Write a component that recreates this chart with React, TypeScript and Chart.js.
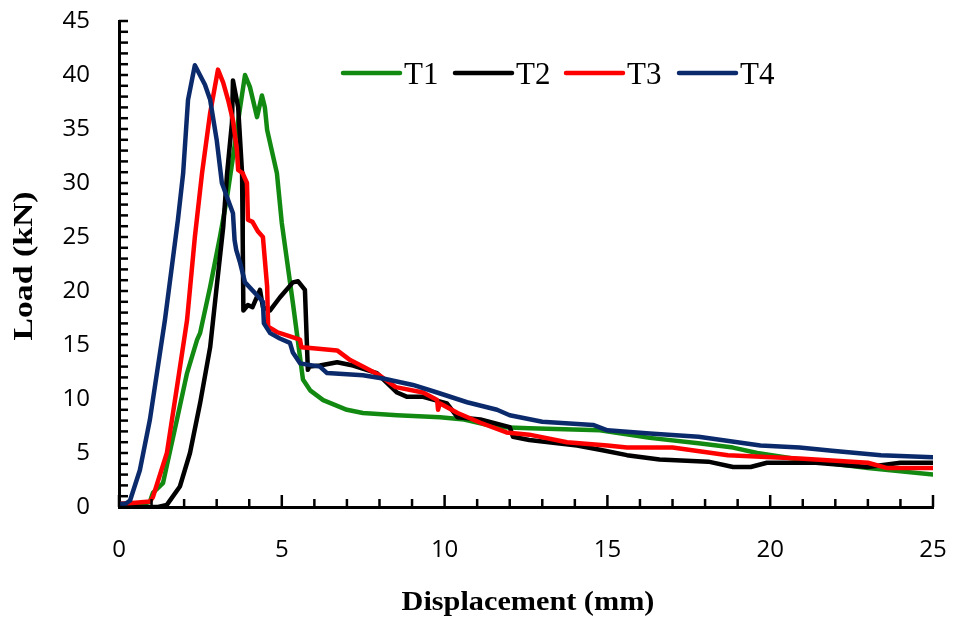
import React, { useEffect, useRef } from "react";
import { Chart, registerables } from "chart.js";

Chart.register(...registerables);

// ---- data (Displacement mm, Load kN) ----
const xT1 = [0, 0.6, 0.95, 1.04, 1.35, 1.78, 2.09, 2.4, 2.49, 2.8, 3.1, 3.32, 3.5, 3.72, 3.87, 4.02, 4.24, 4.39, 4.48, 4.55, 4.85, 5.0, 5.34, 5.65, 5.87, 6.27, 7.0, 7.49, 8.54, 9.86, 10.6, 11.6, 12.6, 14.77, 16.3, 17.8, 18.86, 19.6, 20.9, 23.0, 25];
const yT1 = [0, 0.1, 0.5, 1.3, 2.2, 8.1, 12.4, 15.5, 16.1, 20.4, 25.0, 28.7, 32.4, 37.0, 40.0, 38.9, 36.1, 38.1, 37.0, 34.9, 30.9, 26.3, 18.9, 11.8, 10.8, 9.9, 9.0, 8.7, 8.5, 8.3, 8.1, 7.4, 7.3, 7.1, 6.4, 5.9, 5.5, 5.0, 4.4, 3.6, 3.0];

const xT2 = [0, 1.2, 1.47, 1.87, 2.18, 2.49, 2.8, 3.0, 3.2, 3.32, 3.47, 3.5, 3.66, 3.78, 3.8, 3.82, 3.96, 4.1, 4.33, 4.42, 4.64, 4.94, 5.34, 5.5, 5.71, 5.8, 5.85, 6.17, 6.7, 7.19, 7.92, 8.54, 8.85, 9.34, 10.07, 10.4, 11.1, 12.0, 12.1, 12.6, 14.07, 14.77, 15.6, 16.6, 18.1, 18.86, 19.4, 19.9, 21.4, 23.0, 24.0, 25];
const yT2 = [0, 0, 0.2, 1.9, 5.0, 9.6, 14.8, 20.4, 25.9, 30.9, 35.6, 39.5, 37.0, 30.9, 24.7, 18.2, 18.7, 18.5, 20.1, 18.5, 18.2, 19.4, 20.8, 20.9, 20.1, 12.7, 13.0, 13.1, 13.4, 13.1, 12.4, 10.6, 10.2, 10.2, 9.6, 8.3, 8.1, 7.4, 6.5, 6.2, 5.7, 5.3, 4.8, 4.4, 4.2, 3.7, 3.7, 4.1, 4.1, 3.7, 4.1, 4.1];

const xT3 = [0, 0.5, 0.95, 1.04, 1.47, 1.78, 2.09, 2.33, 2.55, 2.8, 3.04, 3.2, 3.35, 3.5, 3.62, 3.66, 3.8, 3.93, 3.96, 4.1, 4.27, 4.42, 4.55, 4.58, 4.85, 5.16, 5.56, 5.6, 5.96, 6.7, 7.1, 7.49, 8.0, 8.5, 9.34, 9.77, 9.8, 9.85, 10.4, 11.1, 11.9, 12.6, 13.76, 15.0, 15.6, 17.0, 18.7, 20.9, 23.0, 23.6, 25];
const yT3 = [0.3, 0.4, 0.5, 0.9, 5.0, 11.1, 17.3, 25.0, 30.9, 36.5, 40.5, 39.3, 37.7, 35.8, 33.1, 31.2, 30.9, 30.0, 26.6, 26.4, 25.5, 25.0, 20.4, 16.7, 16.2, 15.9, 15.5, 14.8, 14.7, 14.5, 13.6, 13.0, 12.2, 11.1, 10.6, 9.9, 9.0, 9.6, 8.7, 7.8, 6.9, 6.7, 6.0, 5.7, 5.5, 5.5, 4.8, 4.5, 4.1, 3.6, 3.6];

const xT4 = [0, 0.2, 0.34, 0.64, 0.95, 1.41, 1.81, 1.97, 2.12, 2.33, 2.64, 2.8, 3.0, 3.16, 3.5, 3.55, 3.6, 3.72, 3.87, 4.24, 4.42, 4.45, 4.64, 4.94, 5.25, 5.34, 5.56, 6.17, 6.39, 7.49, 8.11, 9.03, 9.77, 10.69, 11.61, 12.0, 13.0, 14.56, 15.0, 16.3, 17.8, 19.7, 20.9, 21.9, 23.4, 25];
const yT4 = [0.3, 0.3, 0.6, 3.4, 8.1, 17.3, 26.6, 30.9, 37.7, 40.9, 39.1, 37.7, 34.0, 30.0, 27.2, 24.7, 23.8, 22.6, 20.8, 19.6, 19.0, 17.0, 16.1, 15.6, 15.2, 14.3, 13.3, 13.0, 12.4, 12.2, 11.9, 11.3, 10.6, 9.7, 9.0, 8.5, 7.9, 7.6, 7.1, 6.8, 6.5, 5.7, 5.5, 5.2, 4.8, 4.6];

const seriesNames = ["T1", "T2", "T3", "T4"];
const seriesX = [xT1, xT2, xT3, xT4];
const seriesY = [yT1, yT2, yT3, yT4];
const seriesColors = ["#128a12", "#000000", "#ff0000", "#0b2a6c"];

const xMin = 0, xMax = 25, xStep = 5;
const yMin = 0, yMax = 45, yStep = 5;
const xTitle = "Displacement (mm)";
const yTitle = "Load (kN)";

const SERIF = '"Liberation Serif", "Times New Roman", serif';
const SANS = '"Open Sans", "Noto Sans", sans-serif';

const zeroPad = (s: any) => {
  s.paddingLeft = 0;
  s.paddingRight = 0;
  s.paddingTop = 0;
  s.paddingBottom = 0;
};

const decorPlugin = {
  id: "decor",
  afterDraw(chart: any) {
    const ctx = chart.ctx as CanvasRenderingContext2D;
    const xs = chart.scales.x;
    const ys = chart.scales.y;
    const { left, bottom } = chart.chartArea;
    ctx.save();
    // inner tick marks
    ctx.strokeStyle = "#000";
    ctx.lineWidth = 2.5;
    for (let v = xMin; v <= xMax; v += 1) {
      const px = xs.getPixelForValue(v);
      const len = v % xStep === 0 ? 12 : 8;
      ctx.beginPath();
      ctx.moveTo(px, bottom);
      ctx.lineTo(px, bottom - len);
      ctx.stroke();
    }
    for (let v = yMin; v <= yMax; v += 1) {
      const py = ys.getPixelForValue(v);
      ctx.beginPath();
      ctx.moveTo(left, py);
      ctx.lineTo(left + 9, py);
      ctx.stroke();
    }
    // legend
    const legX = [343, 455, 566, 679];
    const legY = 73;
    ctx.lineCap = "round";
    ctx.lineWidth = 4.5;
    ctx.font = `31px ${SERIF}`;
    ctx.textBaseline = "alphabetic";
    ctx.textAlign = "left";
    seriesNames.forEach((name, i) => {
      ctx.strokeStyle = seriesColors[i];
      ctx.beginPath();
      ctx.moveTo(legX[i], legY);
      ctx.lineTo(legX[i] + 57, legY);
      ctx.stroke();
      ctx.fillStyle = "#000";
      ctx.fillText(name, legX[i] + 61, legY + 11);
    });
    // axis titles
    ctx.fillStyle = "#000";
    ctx.font = `bold 27px ${SERIF}`;
    ctx.textAlign = "center";
    ctx.textBaseline = "middle";
    ctx.save();
    ctx.translate(528, 603);
    ctx.scale(1.12, 1);
    ctx.fillText(xTitle, 0, 0);
    ctx.restore();
    ctx.save();
    ctx.translate(25, 266);
    ctx.rotate(-Math.PI / 2);
    ctx.scale(1.25, 1);
    ctx.fillText(yTitle, 0, 0);
    ctx.restore();
    ctx.restore();
  },
};

export default function App() {
  const canvasRef = useRef<HTMLCanvasElement | null>(null);

  useEffect(() => {
    const canvas = canvasRef.current;
    if (!canvas) return;
    const datasets = seriesNames.map((name, i) => ({
      label: name,
      data: seriesX[i].map((x, j) => ({ x, y: seriesY[i][j] })),
      borderColor: seriesColors[i],
      backgroundColor: seriesColors[i],
      borderWidth: 4.5,
      pointRadius: 0,
      showLine: true,
      tension: 0,
      fill: false,
      order: 4 - i,
      borderJoinStyle: "round" as const,
      borderCapStyle: "round" as const,
    }));
    const chart = new Chart(canvas, {
      type: "scatter",
      data: { datasets },
      options: {
        responsive: false,
        animation: false,
        layout: { padding: { left: 0, right: 20, top: 21, bottom: 0 } },
        plugins: { legend: { display: false }, tooltip: { enabled: false } },
        scales: {
          x: {
            type: "linear",
            min: xMin,
            max: xMax,
            ticks: {
              stepSize: xStep,
              color: "#000",
              font: { family: SANS, size: 24 },
              padding: 29,
              maxRotation: 0,
            },
            grid: { display: false, drawTicks: false },
            border: { display: true, color: "#000", width: 3 },
            afterFit: (s: any) => {
              s.height = 119;
              zeroPad(s);
            },
          },
          y: {
            type: "linear",
            min: yMin,
            max: yMax,
            ticks: {
              stepSize: yStep,
              color: "#000",
              font: { family: SANS, size: 24 },
              padding: 29,
            },
            grid: { display: false, drawTicks: false },
            border: { display: true, color: "#000", width: 3 },
            afterFit: (s: any) => {
              s.width = 119;
              zeroPad(s);
            },
          },
        },
      },
      plugins: [decorPlugin],
    });
    return () => chart.destroy();
  }, []);

  return (
    <div style={{ position: "fixed", left: 0, top: 0, width: 953, height: 626, background: "#fff" }}>
      <canvas ref={canvasRef} width={953} height={626} style={{ display: "block" }} />
    </div>
  );
}
